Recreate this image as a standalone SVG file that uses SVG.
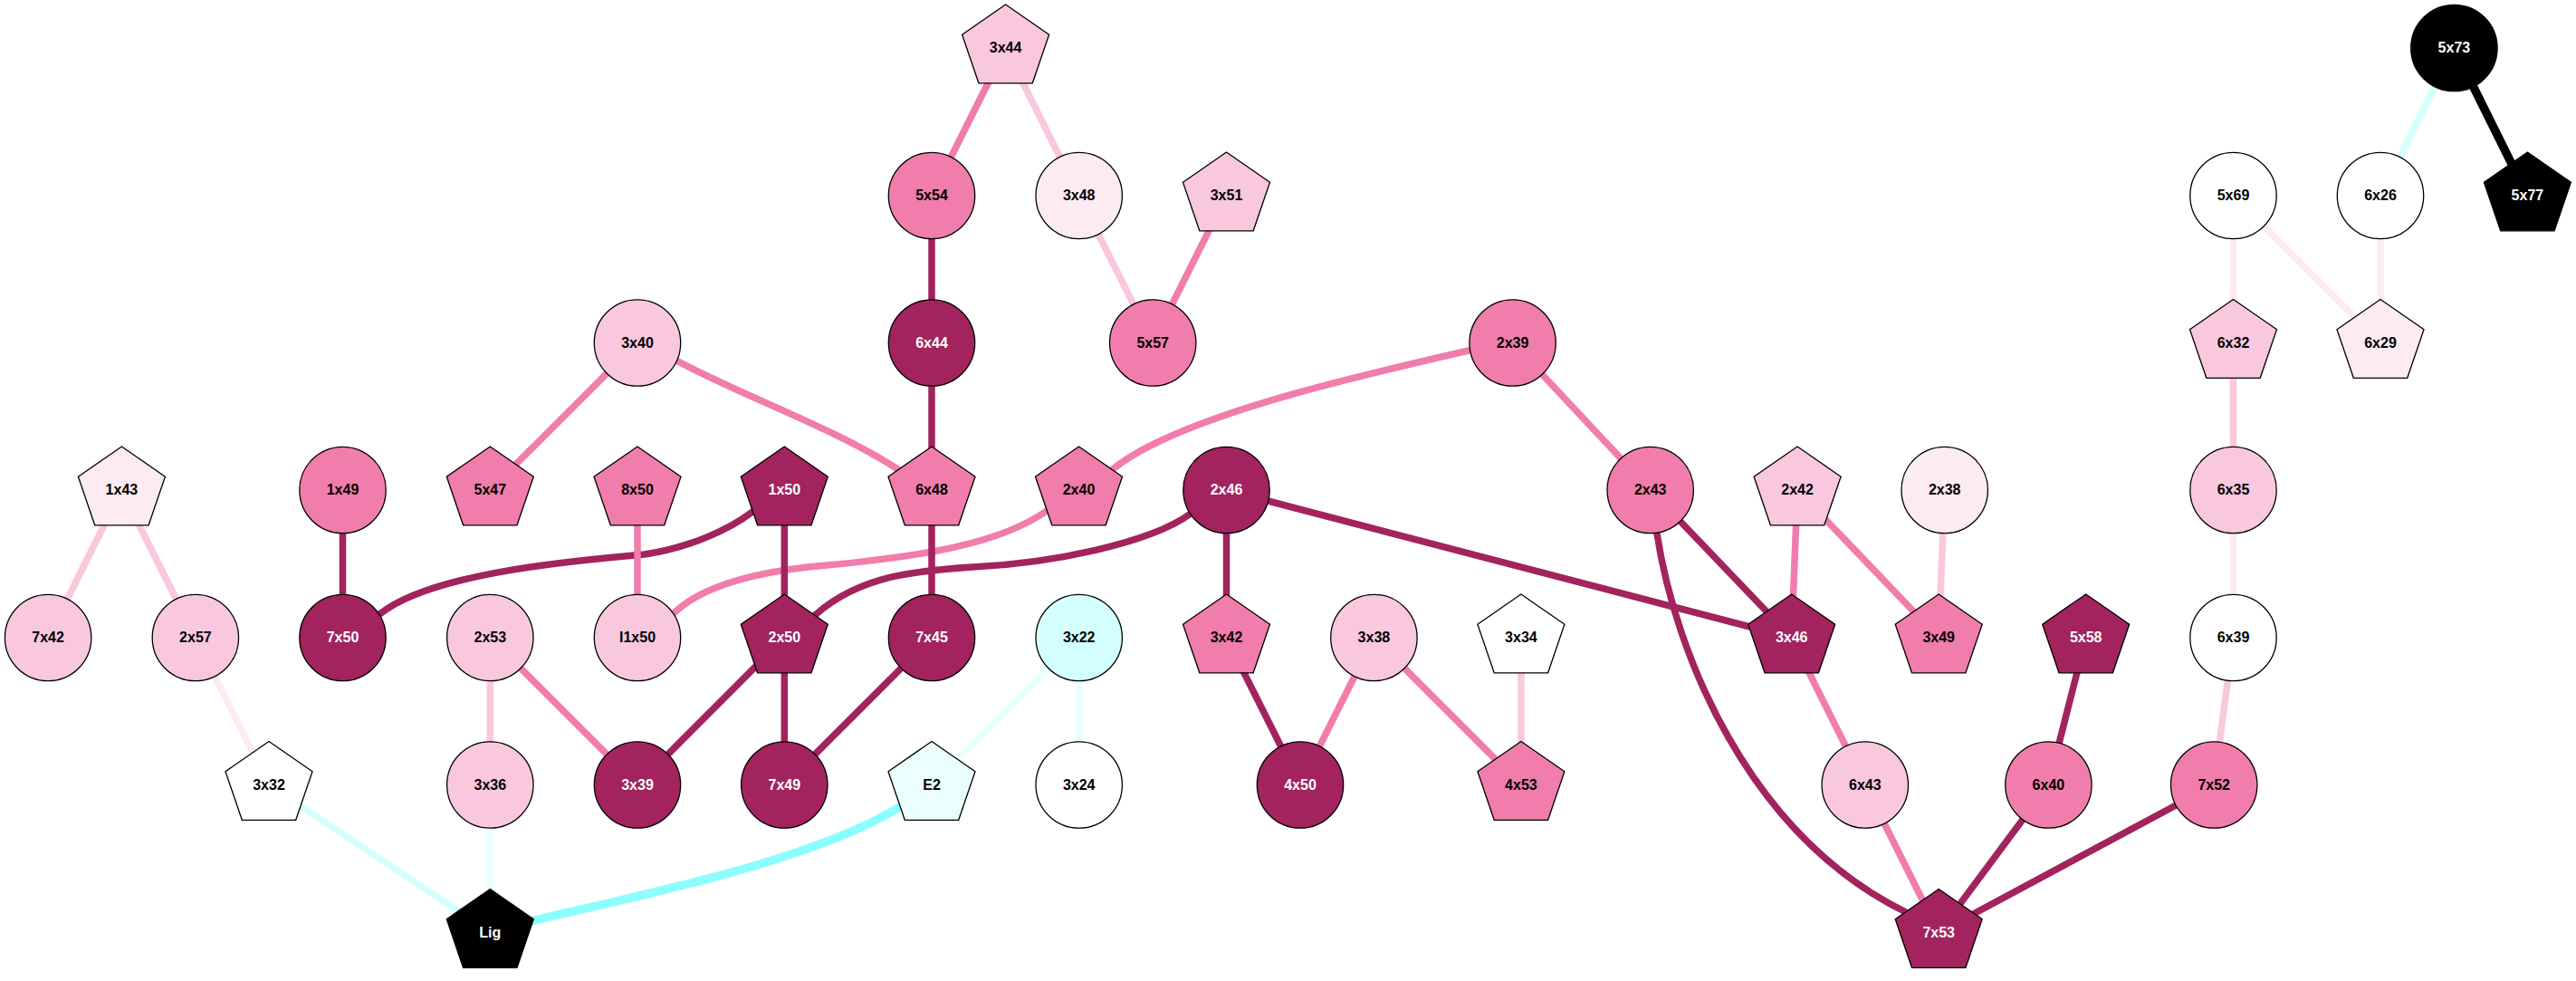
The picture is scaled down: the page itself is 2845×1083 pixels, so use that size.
<svg xmlns="http://www.w3.org/2000/svg" xmlns:xlink="http://www.w3.org/1999/xlink" width="2845" height="1083" viewBox="0 0 2845 1083">
<style>
.e{fill:none;stroke-width:7.5}
.th{stroke-width:9.5}
.dk{stroke:#a2235e}
.md{stroke:#f07dab}
.lt{stroke:#f9c8de}
.vl{stroke:#fcebf3}
.cy{stroke:#d4ffff}
.vc{stroke:#eafefe}
.sc{stroke:#8cfefe}
.bk{stroke:#000}
.s{stroke:#000;stroke-width:1.3}
.fdk{fill:#a2235e}
.fmd{fill:#f07dab}
.flt{fill:#f9c8de}
.fvl{fill:#fcebf3}
.fwh{fill:#ffffff}
.fcy{fill:#d4ffff}
.fvc{fill:#eafefe}
.fbk{fill:#000000}
text{font-family:"Liberation Sans",Arial,sans-serif;font-weight:bold;font-size:16px;text-anchor:middle;fill:#000}
text.w{fill:#fff}
</style>
<defs>
<circle id="C" r="47.7"/>
<polygon id="P" points="0,-48 48,-14.8 29.7,38.8 -29.7,38.8 -48,-14.8"/>
</defs>
<rect width="2845" height="1083" fill="#fff"/>
<g id="connectors">
<line class="e md" x1="1110.6" y1="53" x2="1029" y2="216"/>
<line class="e lt" x1="1110.6" y1="53" x2="1191.7" y2="216"/>
<line class="e lt" x1="1191.7" y1="216" x2="1273.2" y2="378.5"/>
<line class="e md" x1="1354.5" y1="216" x2="1273.2" y2="378.5"/>
<line class="e dk" x1="1029" y1="216" x2="1029" y2="378.5"/>
<line class="e dk" x1="1029" y1="378.5" x2="1029" y2="541"/>
<line class="e md" x1="704" y1="378.5" x2="541.3" y2="541"/>
<path class="e md" d="M704,378.5 L749,399 C820,437 920,472 990,517 L1029,541"/>
<path class="e md" d="M1670.6,378.5 L1622,387 C1500,415 1300,460 1229,518 L1191.5,541"/>
<line class="e md" x1="1670.6" y1="378.5" x2="1822.7" y2="541"/>
<line class="e lt" x1="134.4" y1="541" x2="53.1" y2="704"/>
<line class="e lt" x1="134.4" y1="541" x2="215.9" y2="704"/>
<line class="e vl" x1="215.9" y1="704" x2="297" y2="866.5"/>
<line class="e dk" x1="378.5" y1="541" x2="378.5" y2="704"/>
<path class="e dk" d="M866.3,541 L831,565 C805,585 760,605 712,612 C650,618 480,630 420,677.5 L378.5,704"/>
<line class="e md" x1="704" y1="541" x2="704" y2="704"/>
<path class="e md" d="M1191.5,541 L1156,564 C1105,600 1020,615 892,626 C830,633 775,648 745,676 L704,704"/>
<line class="e dk" x1="866.3" y1="541" x2="866.3" y2="704"/>
<line class="e dk" x1="1029" y1="541" x2="1029" y2="704"/>
<path class="e dk" d="M1354.5,541 L1315,567 C1270,600 1160,622 1074,626 C1010,630 950,636 902,677.5 L866.3,704"/>
<line class="e dk" x1="1354.5" y1="541" x2="1354.5" y2="704"/>
<line class="e dk" x1="1354.5" y1="541" x2="1978.7" y2="704"/>
<line class="e dk" x1="1822.7" y1="541" x2="1978.7" y2="704"/>
<path class="e dk" d="M1822.7,541 L1830,589 C1850,720 1930,920 2103,1006 L2141.2,1029.5"/>
<line class="e md" x1="1985.1" y1="541" x2="1978.7" y2="704"/>
<line class="e md" x1="1985.1" y1="541" x2="2141.2" y2="704"/>
<line class="e lt" x1="2147.7" y1="541" x2="2141.2" y2="704"/>
<line class="e lt" x1="541.3" y1="704" x2="541.3" y2="866.5"/>
<line class="e md" x1="541.3" y1="704" x2="704" y2="866.5"/>
<line class="e dk" x1="866.3" y1="704" x2="704" y2="866.5"/>
<line class="e dk" x1="866.3" y1="704" x2="866.3" y2="866.5"/>
<line class="e dk" x1="1029" y1="704" x2="866.3" y2="866.5"/>
<line class="e vc" x1="1191.7" y1="704" x2="1029" y2="866.5"/>
<line class="e vc" x1="1191.7" y1="704" x2="1191.7" y2="866.5"/>
<line class="e dk" x1="1354.5" y1="704" x2="1436" y2="866.5"/>
<line class="e md" x1="1517.4" y1="704" x2="1436" y2="866.5"/>
<line class="e md" x1="1517.4" y1="704" x2="1679.9" y2="866.5"/>
<line class="e lt" x1="1679.9" y1="704" x2="1679.9" y2="866.5"/>
<line class="e md" x1="1978.7" y1="704" x2="2059.8" y2="866.5"/>
<line class="e md" x1="2059.8" y1="866.5" x2="2141.2" y2="1029.5"/>
<line class="e dk" x1="2303.7" y1="704" x2="2262.4" y2="866.5"/>
<line class="e dk" x1="2262.4" y1="866.5" x2="2141.2" y2="1029.5"/>
<line class="e dk" x1="2445.2" y1="866.5" x2="2141.2" y2="1029.5"/>
<line class="e lt" x1="2466.5" y1="704" x2="2445.2" y2="866.5"/>
<line class="e vl" x1="2466.5" y1="541" x2="2466.5" y2="704"/>
<line class="e lt" x1="2466.5" y1="378.5" x2="2466.5" y2="541"/>
<line class="e vl" x1="2466.5" y1="216" x2="2466.5" y2="378.5"/>
<line class="e vl" x1="2466.5" y1="216" x2="2629" y2="378.5"/>
<line class="e vl" x1="2629" y1="216" x2="2629" y2="378.5"/>
<line class="e cy" x1="2710.4" y1="53" x2="2629" y2="216"/>
<line class="e th bk" x1="2710.4" y1="53" x2="2791.4" y2="216"/>
<line class="e cy" x1="297" y1="866.5" x2="541.3" y2="1029.5"/>
<line class="e vc" x1="541.3" y1="866.5" x2="541.3" y2="1029.5"/>
<path class="e th sc" d="M541.3,1029.5 L590,1016 C700,990 900,950 995,890 L1029,866.5"/>
</g>
<g id="n-3x44" transform="translate(1110.6,53)"><use href="#P" class="s flt"/><text y="5">3x44</text></g>
<g id="n-5x73" transform="translate(2710.4,53)"><use href="#C" class="s fbk"/><text class="w" y="5">5x73</text></g>
<g id="n-5x54" transform="translate(1029,216)"><use href="#C" class="s fmd"/><text y="5">5x54</text></g>
<g id="n-3x48" transform="translate(1191.7,216)"><use href="#C" class="s fvl"/><text y="5">3x48</text></g>
<g id="n-3x51" transform="translate(1354.5,216)"><use href="#P" class="s flt"/><text y="5">3x51</text></g>
<g id="n-5x69" transform="translate(2466.5,216)"><use href="#C" class="s fwh"/><text y="5">5x69</text></g>
<g id="n-6x26" transform="translate(2629,216)"><use href="#C" class="s fwh"/><text y="5">6x26</text></g>
<g id="n-5x77" transform="translate(2791.4,216)"><use href="#P" class="s fbk"/><text class="w" y="5">5x77</text></g>
<g id="n-3x40" transform="translate(704,378.5)"><use href="#C" class="s flt"/><text y="5">3x40</text></g>
<g id="n-6x44" transform="translate(1029,378.5)"><use href="#C" class="s fdk"/><text class="w" y="5">6x44</text></g>
<g id="n-5x57" transform="translate(1273.2,378.5)"><use href="#C" class="s fmd"/><text y="5">5x57</text></g>
<g id="n-2x39" transform="translate(1670.6,378.5)"><use href="#C" class="s fmd"/><text y="5">2x39</text></g>
<g id="n-6x32" transform="translate(2466.5,378.5)"><use href="#P" class="s flt"/><text y="5">6x32</text></g>
<g id="n-6x29" transform="translate(2629,378.5)"><use href="#P" class="s fvl"/><text y="5">6x29</text></g>
<g id="n-1x43" transform="translate(134.4,541)"><use href="#P" class="s fvl"/><text y="5">1x43</text></g>
<g id="n-1x49" transform="translate(378.5,541)"><use href="#C" class="s fmd"/><text y="5">1x49</text></g>
<g id="n-5x47" transform="translate(541.3,541)"><use href="#P" class="s fmd"/><text y="5">5x47</text></g>
<g id="n-8x50" transform="translate(704,541)"><use href="#P" class="s fmd"/><text y="5">8x50</text></g>
<g id="n-1x50" transform="translate(866.3,541)"><use href="#P" class="s fdk"/><text class="w" y="5">1x50</text></g>
<g id="n-6x48" transform="translate(1029,541)"><use href="#P" class="s fmd"/><text y="5">6x48</text></g>
<g id="n-2x40" transform="translate(1191.5,541)"><use href="#P" class="s fmd"/><text y="5">2x40</text></g>
<g id="n-2x46" transform="translate(1354.5,541)"><use href="#C" class="s fdk"/><text class="w" y="5">2x46</text></g>
<g id="n-2x43" transform="translate(1822.7,541)"><use href="#C" class="s fmd"/><text y="5">2x43</text></g>
<g id="n-2x42" transform="translate(1985.1,541)"><use href="#P" class="s flt"/><text y="5">2x42</text></g>
<g id="n-2x38" transform="translate(2147.7,541)"><use href="#C" class="s fvl"/><text y="5">2x38</text></g>
<g id="n-6x35" transform="translate(2466.5,541)"><use href="#C" class="s flt"/><text y="5">6x35</text></g>
<g id="n-7x42" transform="translate(53.1,704)"><use href="#C" class="s flt"/><text y="5">7x42</text></g>
<g id="n-2x57" transform="translate(215.9,704)"><use href="#C" class="s flt"/><text y="5">2x57</text></g>
<g id="n-7x50" transform="translate(378.5,704)"><use href="#C" class="s fdk"/><text class="w" y="5">7x50</text></g>
<g id="n-2x53" transform="translate(541.3,704)"><use href="#C" class="s flt"/><text y="5">2x53</text></g>
<g id="n-I1x50" transform="translate(704,704)"><use href="#C" class="s flt"/><text y="5">I1x50</text></g>
<g id="n-2x50" transform="translate(866.3,704)"><use href="#P" class="s fdk"/><text class="w" y="5">2x50</text></g>
<g id="n-7x45" transform="translate(1029,704)"><use href="#C" class="s fdk"/><text class="w" y="5">7x45</text></g>
<g id="n-3x22" transform="translate(1191.7,704)"><use href="#C" class="s fcy"/><text y="5">3x22</text></g>
<g id="n-3x42" transform="translate(1354.5,704)"><use href="#P" class="s fmd"/><text y="5">3x42</text></g>
<g id="n-3x38" transform="translate(1517.4,704)"><use href="#C" class="s flt"/><text y="5">3x38</text></g>
<g id="n-3x34" transform="translate(1679.9,704)"><use href="#P" class="s fwh"/><text y="5">3x34</text></g>
<g id="n-3x46" transform="translate(1978.7,704)"><use href="#P" class="s fdk"/><text class="w" y="5">3x46</text></g>
<g id="n-3x49" transform="translate(2141.2,704)"><use href="#P" class="s fmd"/><text y="5">3x49</text></g>
<g id="n-5x58" transform="translate(2303.7,704)"><use href="#P" class="s fdk"/><text class="w" y="5">5x58</text></g>
<g id="n-6x39" transform="translate(2466.5,704)"><use href="#C" class="s fwh"/><text y="5">6x39</text></g>
<g id="n-3x32" transform="translate(297,866.5)"><use href="#P" class="s fwh"/><text y="5">3x32</text></g>
<g id="n-3x36" transform="translate(541.3,866.5)"><use href="#C" class="s flt"/><text y="5">3x36</text></g>
<g id="n-3x39" transform="translate(704,866.5)"><use href="#C" class="s fdk"/><text class="w" y="5">3x39</text></g>
<g id="n-7x49" transform="translate(866.3,866.5)"><use href="#C" class="s fdk"/><text class="w" y="5">7x49</text></g>
<g id="n-E2" transform="translate(1029,866.5)"><use href="#P" class="s fvc"/><text y="5">E2</text></g>
<g id="n-3x24" transform="translate(1191.7,866.5)"><use href="#C" class="s fwh"/><text y="5">3x24</text></g>
<g id="n-4x50" transform="translate(1436,866.5)"><use href="#C" class="s fdk"/><text class="w" y="5">4x50</text></g>
<g id="n-4x53" transform="translate(1679.9,866.5)"><use href="#P" class="s fmd"/><text y="5">4x53</text></g>
<g id="n-6x43" transform="translate(2059.8,866.5)"><use href="#C" class="s flt"/><text y="5">6x43</text></g>
<g id="n-6x40" transform="translate(2262.4,866.5)"><use href="#C" class="s fmd"/><text y="5">6x40</text></g>
<g id="n-7x52" transform="translate(2445.2,866.5)"><use href="#C" class="s fmd"/><text y="5">7x52</text></g>
<g id="n-Lig" transform="translate(541.3,1029.5)"><use href="#P" class="s fbk"/><text class="w" y="5">Lig</text></g>
<g id="n-7x53" transform="translate(2141.2,1029.5)"><use href="#P" class="s fdk"/><text class="w" y="5">7x53</text></g>
</svg>
